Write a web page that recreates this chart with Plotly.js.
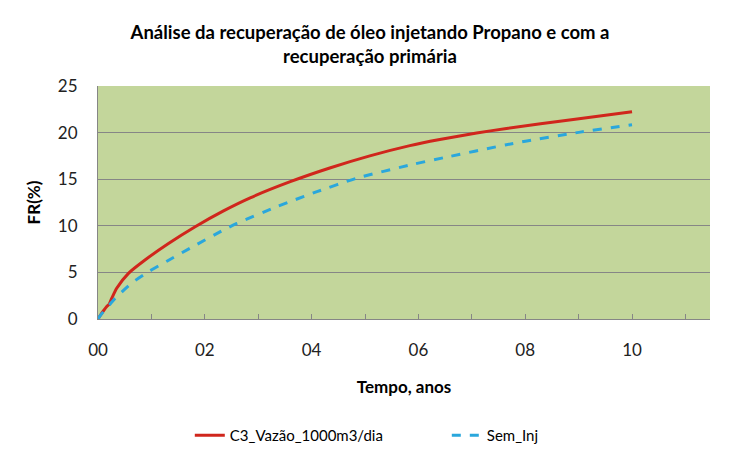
<!DOCTYPE html>
<html>
<head>
<meta charset="utf-8">
<script src="https://cdn.plot.ly/plotly-3.0.1.min.js"></script>
<style>html,body{margin:0;padding:0;background:#fff}#chart{width:740px;height:464px}</style>
</head>
<body>
<div id="chart"></div>
<script>
// Data (years, FR %)
var c3Years = [0, 0.08, 0.16, 0.21, 0.256, 0.35, 0.57, 0.88, 1.32, 1.82, 2.35, 2.85, 3.6, 4.34, 5.09, 5.84, 6.4, 7.09, 7.65, 8.9, 10];
var c3FR    = [0, 0.7, 1.32, 1.6, 2.2, 3.3, 4.9, 6.33, 8.1, 9.9, 11.6, 13.0, 14.73, 16.2, 17.5, 18.6, 19.25, 19.95, 20.45, 21.4, 22.24];
var semYears = [0, 0.04, 0.32, 0.63, 0.97, 1.29, 1.82, 2.35, 2.6, 3.35, 3.6, 4.1, 4.84, 5.9, 6.47, 7.65, 8.03, 9.03, 10];
var semFR    = [0, 0.35, 2.2, 3.85, 5.15, 6.2, 7.9, 9.55, 10.25, 12.05, 12.6, 13.66, 15.1, 16.6, 17.3, 18.7, 19.1, 20.05, 20.85];
var xTickVals = [0, 2, 4, 6, 8, 10];
var xTickText = ["00", "02", "04", "06", "08", "10"];
var seriesNames = ["C3_Vazão_1000m3/dia", "Sem_Inj"];

var font = "Lato, 'Open Sans', sans-serif";
var traces = [
  {x: c3Years, y: c3FR, name: seriesNames[0], type: "scatter", mode: "lines",
   line: {color: "#D0261C", width: 3, shape: "spline", smoothing: 0.6}},
  {x: semYears, y: semFR, name: seriesNames[1], type: "scatter", mode: "lines",
   line: {color: "#2AA7DC", width: 3, dash: "dash", shape: "spline", smoothing: 0.6}}
];
var layout = {
  width: 740, height: 464,
  margin: {l: 98, r: 30, t: 86, b: 145},
  paper_bgcolor: "#ffffff", plot_bgcolor: "#C3D69B",
  font: {family: font, color: "#000", size: 16},
  title: {text: "<b>Análise da recuperação de óleo injetando Propano e com a<br>recuperação primária</b>",
          x: 0.5, xref: "container", xanchor: "center", y: 0.917, yref: "container", yanchor: "middle",
          font: {family: font, size: 18.5, color: "#000"}},
  xaxis: {range: [0, 11.46], tickvals: xTickVals, ticktext: xTickText,
          ticks: "inside", ticklen: 5, tickcolor: "#868686", tickwidth: 1,
          minor: {dtick: 1, tick0: 0, ticks: "inside", ticklen: 5, tickcolor: "#868686", showgrid: false},
          showline: true, linecolor: "#868686", linewidth: 1, showgrid: false, zeroline: false,
          ticklabelstandoff: 16,
          tickfont: {family: font, size: 17, color: "#222"},
          title: {text: "<b>Tempo, anos</b>", font: {family: font, size: 17, color: "#000"}, standoff: 21}},
  yaxis: {range: [0, 25], dtick: 5, tick0: 0, showgrid: true, gridcolor: "#868686", gridwidth: 1,
          showline: true, linecolor: "#868686", linewidth: 1, zeroline: false, ticks: "",
          ticklabelstandoff: 16,
          tickfont: {family: font, size: 17, color: "#222"},
          title: {text: "<b>FR(%)</b>", font: {family: font, size: 17, color: "#000"}, standoff: 12}},
  showlegend: true,
  legend: {orientation: "h", x: 0.15, xanchor: "left", y: -0.5, yanchor: "middle",
           entrywidth: 212, entrywidthmode: "pixels",
           font: {family: font, size: 15, color: "#000"}, bgcolor: "rgba(0,0,0,0)"}
};
Plotly.newPlot("chart", traces, layout, {displayModeBar: false, staticPlot: true});
</script>
</body>
</html>
